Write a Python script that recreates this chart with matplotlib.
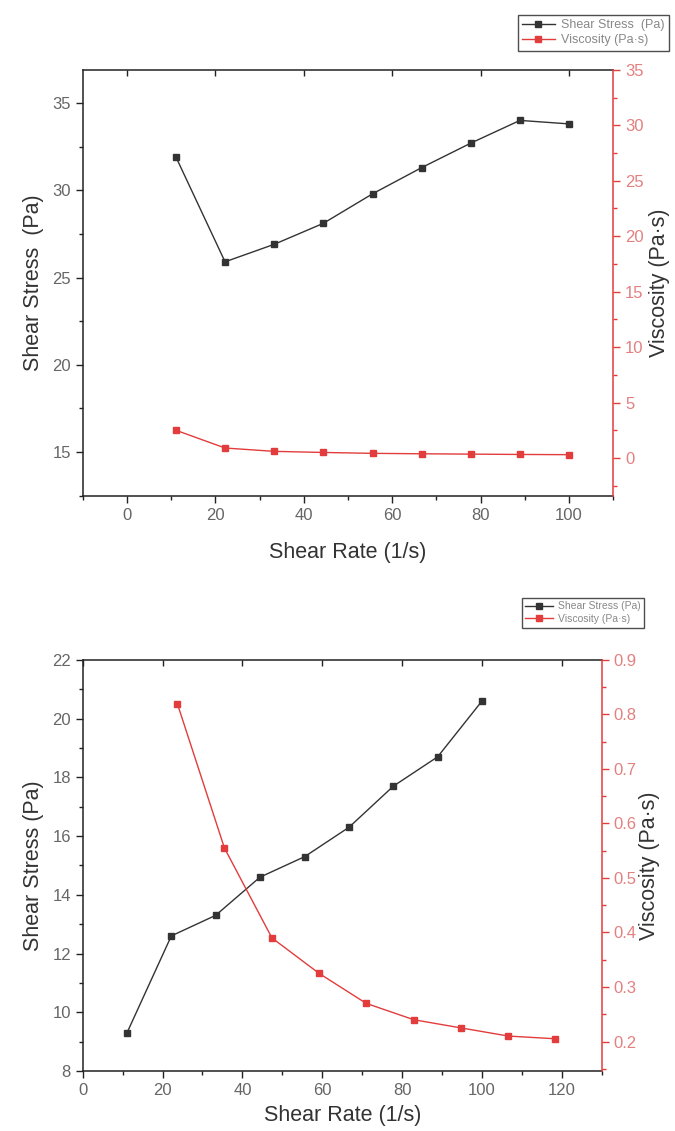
import numpy as np
import matplotlib.pyplot as plt
from matplotlib.ticker import MultipleLocator, AutoMinorLocator

plt.rcParams['font.family'] = ['Liberation Sans', 'DejaVu Sans']

# ---- data, top chart ----
rate_top = [11.1, 22.2, 33.3, 44.4, 55.6, 66.7, 77.8, 88.9, 100.0]
stress_top = [31.9, 25.9, 26.9, 28.1, 29.8, 31.3, 32.7, 34.0, 33.8]
visc_top = [2.5, 0.9, 0.6, 0.5, 0.42, 0.38, 0.35, 0.32, 0.3]

# ---- data, bottom chart ----
rate_bot_s = [11.1, 22.2, 33.3, 44.4, 55.6, 66.7, 77.8, 88.9, 100.0]
stress_bot = [9.3, 12.6, 13.3, 14.6, 15.3, 16.3, 17.7, 18.7, 20.6]
rate_bot_v = [23.7, 35.5, 47.4, 59.2, 71.0, 82.9, 94.7, 106.6, 118.4]
visc_bot = [0.82, 0.555, 0.39, 0.325, 0.27, 0.24, 0.225, 0.21, 0.205]

BLACK = '#333333'
RED = '#e23c3c'
TICK_GRAY = '#666666'
RED_TICK = '#e38080'


def style_axes(ax, ax2, xmaj, ymaj, y2maj):
    for s in ['left', 'bottom', 'top']:
        ax.spines[s].set_linewidth(1.1)
        ax.spines[s].set_color('#222222')
    ax.spines['right'].set_visible(False)
    ax2.spines['right'].set_color(RED)
    ax2.spines['right'].set_linewidth(1.1)
    for s in ['left', 'bottom', 'top']:
        ax2.spines[s].set_visible(False)
    ax.xaxis.set_major_locator(MultipleLocator(xmaj))
    ax.xaxis.set_minor_locator(AutoMinorLocator(2))
    ax.yaxis.set_major_locator(MultipleLocator(ymaj))
    ax.yaxis.set_minor_locator(AutoMinorLocator(2))
    ax2.yaxis.set_major_locator(MultipleLocator(y2maj))
    ax2.yaxis.set_minor_locator(AutoMinorLocator(2))
    ax.tick_params(axis='both', which='major', direction='out', length=5,
                   width=1, labelsize=12, labelcolor=TICK_GRAY, color='#222222')
    ax.tick_params(axis='both', which='minor', direction='out', length=3,
                   width=1, color='#222222')
    ax2.tick_params(axis='y', which='major', direction='out', length=5,
                    width=1, labelsize=12, labelcolor=RED_TICK, color=RED)
    ax2.tick_params(axis='y', which='minor', direction='out', length=3,
                    width=1, color=RED)
    # short inward ticks on the top frame line
    top = ax.secondary_xaxis('top')
    top.xaxis.set_major_locator(MultipleLocator(xmaj))
    top.tick_params(direction='in', length=4, width=1, labeltop=False,
                    color='#222222')
    top.spines['top'].set_visible(False)


fig = plt.figure(figsize=(6.75, 11.31), dpi=100)

leg_kw = dict(loc='upper left', frameon=True, fancybox=False,
              edgecolor='#222222', handlelength=2.6, borderpad=0.35,
              labelspacing=0.25, handletextpad=0.5, labelcolor='#888888',
              markerscale=0.8, borderaxespad=0)

# ---------------- top chart ----------------
ax1 = fig.add_axes([0.1225, 0.5617, 0.786, 0.3766])
ax1b = ax1.twinx()
l1, = ax1.plot(rate_top, stress_top, '-s', color=BLACK, lw=1, ms=5,
               label='Shear Stress  (Pa)')
l2, = ax1b.plot(rate_top, visc_top, '-s', color=RED, lw=1, ms=5,
                label='Viscosity (Pa·s)')
ax1.set_xlim(-10, 110)
ax1.set_ylim(12.5, 36.9)
ax1b.set_ylim(-3.4, 35)
style_axes(ax1, ax1b, 20, 5, 5)
ax1.set_xlabel('Shear Rate (1/s)', fontsize=15.5, color='#333333', labelpad=14)
ax1.set_ylabel('Shear Stress  (Pa)', fontsize=15.5, color='#333333', labelpad=6)
ax1b.set_ylabel('Viscosity (Pa·s)', fontsize=15.5, color='#333333', labelpad=4)
fig.legend(handles=[l1, l2], bbox_to_anchor=(0.767, 0.987), fontsize=9,
           **leg_kw)

# ---------------- bottom chart ----------------
ax2 = fig.add_axes([0.1225, 0.0531, 0.769, 0.3634])
ax2b = ax2.twinx()
m1, = ax2.plot(rate_bot_s, stress_bot, '-s', color=BLACK, lw=1, ms=5,
               label='Shear Stress (Pa)')
m2, = ax2b.plot(rate_bot_v, visc_bot, '-s', color=RED, lw=1, ms=5,
                label='Viscosity (Pa·s)')
ax2.set_xlim(0, 130)
ax2.set_ylim(8, 22)
ax2b.set_ylim(0.146, 0.9)
style_axes(ax2, ax2b, 20, 2, 0.1)
ax2.set_xlabel('Shear Rate (1/s)', fontsize=15.5, color='#333333', labelpad=5)
ax2.set_ylabel('Shear Stress (Pa)', fontsize=15.5, color='#333333', labelpad=6)
ax2b.set_ylabel('Viscosity (Pa·s)', fontsize=15.5, color='#333333', labelpad=2)
fig.legend(handles=[m1, m2], bbox_to_anchor=(0.773, 0.4715), fontsize=7.5,
           **leg_kw)

fig.savefig('out.png', dpi=100)
